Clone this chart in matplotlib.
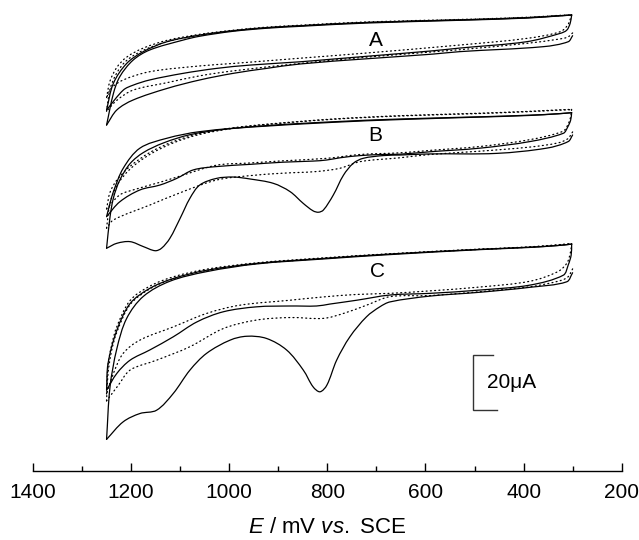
import numpy as np
import matplotlib
matplotlib.use("Agg")
import matplotlib.pyplot as plt
from matplotlib.path import Path
from matplotlib.patches import PathPatch

plt.rcParams['font.family'] = ['Liberation Sans', 'DejaVu Sans']
plt.rcParams['mathtext.fontset'] = 'custom'
plt.rcParams['mathtext.rm'] = 'Liberation Sans'
plt.rcParams['mathtext.it'] = 'Liberation Sans:italic'

# ---------------- data (E in mV, I in uA relative to each panel) ----------------
panel_labels = ["A", "B", "C"]
panel_offsets = [165.7, 130.2, 82.4]   # vertical offset of each panel (uA)

# Panel A -- solid
A_fwd1_E = [300, 309, 360, 530, 585, 720, 856, 924, 992, 1060, 1127, 1196, 1229, 1250]
A_fwd1_I = [-7.5, -9.7, -11.5, -13.3, -14.2, -15.9, -17.8, -19.4, -21.2, -23.6, -26.7, -30.9, -34.5, -40.0]
A_fwd2_E = [302, 305, 312, 326, 394, 530, 585, 720, 788, 856, 958, 1026, 1094, 1162, 1196, 1216, 1250]
A_fwd2_I = [0, -3.0, -5.5, -6.7, -9.7, -12.0, -13.0, -15.0, -16.0, -17.0, -18.2, -19.4, -21.2, -23.6, -25.5, -27.3, -34.5]
A_rev1_E = [1250, 1236, 1223, 1196, 1162, 1094, 1060, 992, 924, 856, 720, 530, 394, 326, 302]
A_rev1_I = [-40.0, -28.5, -22.4, -16.4, -12.7, -9.1, -7.7, -5.9, -4.8, -4.1, -2.9, -1.9, -1.1, -0.3, 0]
A_rev2_E = [1250, 1236, 1209, 1175, 1127, 1060, 992, 924, 856, 720, 530, 394, 326, 302]
A_rev2_I = [-34.5, -24.8, -17.6, -13.3, -9.7, -7.3, -5.7, -4.6, -3.9, -2.7, -1.8, -1.0, -0.25, 0]
# Panel A -- dotted
A_dfwd1_E = [300, 310, 330, 394, 530, 720, 856, 992, 1060, 1127, 1196, 1229, 1250]
A_dfwd1_I = [-6.5, -8.0, -8.8, -10.3, -12.6, -15.3, -17.6, -20.3, -22.1, -24.6, -27.3, -31.0, -35.0]
A_dfwd2_E = [302, 310, 326, 394, 530, 720, 856, 992, 1060, 1162, 1216, 1240, 1250]
A_dfwd2_I = [0.1, -3.6, -6.1, -8.5, -10.9, -13.8, -15.7, -17.6, -18.5, -20.6, -23.6, -26.5, -30.0]
A_drev_E = [1250, 1243, 1229, 1209, 1175, 1127, 1060, 992, 924, 856, 720, 530, 394, 326, 302]
A_drev1_I = [-35.0, -27.0, -21.0, -16.5, -12.8, -9.7, -7.3, -5.7, -4.6, -3.9, -2.7, -1.7, -0.9, -0.2, 0]
A_drev2_I = [-30.0, -24.0, -19.0, -15.3, -12.0, -9.2, -7.0, -5.5, -4.4, -3.7, -2.5, -1.6, -0.8, -0.1, 0.1]

# Panel B -- solid
B_fwd1_E = [300, 309, 353, 455, 590, 652, 686, 727, 747, 767, 788, 808, 818, 829, 849, 876, 910, 958,
            992, 1026, 1060, 1080, 1100, 1121, 1138, 1151, 1175, 1202, 1229, 1250]
B_fwd1_I = [-8.1, -10.5, -12.9, -14.8, -15.0, -15.4, -15.6, -16.6, -18.4, -22.7, -30.0, -35.4, -36.2, -35.7,
            -33.0, -28.7, -25.7, -24.1, -23.4, -23.9, -26.3, -31.1, -38.4, -45.7, -49.3, -50.2, -48.7, -46.9,
            -47.5, -49.3]
B_fwd2_E = [302, 304, 310, 319, 387, 489, 590, 652, 686, 733, 774, 801, 829, 890, 958, 1026, 1073, 1107,
            1141, 1182, 1223, 1250]
B_fwd2_I = [0, -2.7, -5.2, -7.5, -10.5, -12.9, -14.2, -15.1, -15.2, -15.6, -16.4, -17.2, -17.6, -18.0,
            -18.8, -19.6, -20.8, -23.9, -26.3, -28.1, -32.4, -37.8]
B_rev1_E = [1250, 1243, 1236, 1223, 1202, 1175, 1134, 1080, 1012, 944, 788, 652, 489, 387, 330, 302]
B_rev1_I = [-49.3, -38.0, -31.0, -24.5, -18.5, -14.5, -11.0, -8.0, -6.1, -5.1, -3.5, -2.5, -1.6, -1.0, -0.4, 0]
B_rev2_E = [1250, 1243, 1236, 1216, 1182, 1127, 1060, 924, 788, 652, 489, 387, 330, 302]
B_rev2_I = [-37.8, -33.0, -28.7, -20.2, -12.9, -9.3, -6.9, -4.7, -3.3, -2.3, -1.5, -0.9, -0.4, 0]
# Panel B -- dotted
B_dfwd1_E = [300, 310, 330, 387, 489, 590, 652, 733, 774, 822, 890, 958, 1026, 1094, 1162, 1236, 1250]
B_dfwd1_I = [-7.0, -9.5, -11.0, -12.5, -14.0, -15.2, -16.4, -17.8, -20.2, -21.4, -22.0, -22.9, -24.5,
             -28.7, -33.6, -39.0, -42.0]
B_dfwd2_E = [302, 304, 310, 320, 387, 489, 590, 652, 733, 801, 890, 958, 1026, 1094, 1141, 1196, 1223, 1250]
B_dfwd2_I = [1.2, -1.5, -4.5, -6.8, -9.8, -12.3, -13.7, -14.6, -15.2, -16.6, -17.5, -18.3, -19.1, -22.7,
             -25.3, -28.1, -29.9, -35.0]
B_drev_E = [1250, 1243, 1229, 1202, 1162, 1114, 1060, 992, 924, 788, 652, 489, 387, 330, 302]
B_drev1_I = [-42.0, -33.0, -26.5, -20.5, -15.2, -11.0, -7.9, -5.7, -4.3, -2.4, -1.2, -0.3, 0.4, 0.9, 1.1]
B_drev2_I = [-35.0, -29.0, -24.5, -19.5, -14.5, -10.5, -7.6, -5.5, -4.2, -2.3, -1.1, -0.2, 0.5, 1.0, 1.2]

# Panel C -- solid
C_fwd1_E = [300, 312, 387, 489, 591, 672, 693, 720, 754, 781, 801, 815, 829, 849, 883, 924, 964, 998,
            1046, 1080, 1114, 1148, 1182, 1216, 1250]
C_fwd1_I = [-10.4, -13.7, -15.7, -17.5, -18.9, -21.0, -22.8, -26.4, -33.7, -42.2, -51.3, -53.7, -51.9,
            -45.8, -38.5, -34.3, -33.5, -34.9, -39.7, -45.8, -54.3, -60.4, -61.6, -64.6, -71.0]
C_fwd2_E = [302, 303, 309, 319, 387, 489, 591, 672, 740, 795, 822, 876, 944, 1012, 1066, 1114, 1162,
            1202, 1229, 1250]
C_fwd2_I = [0, -4.0, -7.6, -11.3, -14.9, -16.7, -17.9, -18.5, -20.4, -21.8, -22.5, -22.5, -22.8, -24.6,
            -28.3, -33.7, -38.5, -42.2, -47.0, -53.1]
C_rev1_E = [1250, 1243, 1229, 1209, 1175, 1121, 1046, 944, 808, 672, 489, 387, 330, 302]
C_rev1_I = [-71.0, -52.0, -38.0, -27.0, -19.0, -13.5, -10.0, -7.2, -5.4, -3.8, -2.0, -1.2, -0.5, 0]
C_rev2_E = [1250, 1247, 1229, 1202, 1162, 1114, 1046, 944, 808, 672, 489, 387, 330, 302]
C_rev2_I = [-53.1, -43.4, -31.3, -21.6, -16.1, -12.5, -9.5, -7.0, -5.2, -3.6, -1.9, -1.1, -0.5, 0]
# Panel C -- dotted
C_dfwd1_E = [300, 310, 330, 387, 489, 591, 672, 720, 767, 808, 876, 944, 1012, 1080, 1148, 1202, 1226, 1250]
C_dfwd1_I = [-9.0, -12.0, -13.5, -15.5, -17.3, -18.7, -19.1, -22.2, -25.2, -27.0, -26.7, -27.6, -30.7,
             -37.3, -42.2, -45.8, -51.3, -57.0]
C_dfwd2_E = [302, 305, 312, 330, 387, 489, 591, 672, 740, 808, 876, 978, 1046, 1114, 1182, 1216, 1236, 1250]
C_dfwd2_I = [0.2, -3.5, -7.0, -10.0, -13.5, -15.6, -17.0, -17.9, -18.3, -19.2, -20.4, -22.2, -25.2, -30.1,
             -34.9, -39.7, -47.0, -54.5]
C_drev_E = [1250, 1247, 1240, 1229, 1202, 1162, 1114, 1046, 944, 808, 672, 489, 387, 302]
C_drev1_I = [-57.0, -47.0, -39.0, -32.0, -22.0, -16.3, -12.6, -9.6, -7.1, -5.2, -3.6, -1.9, -1.1, 0.1]
C_drev2_I = [-54.5, -44.0, -37.0, -30.0, -20.5, -15.3, -11.9, -9.1, -6.8, -5.0, -3.5, -1.8, -1.0, 0.2]

x_ticks = [1400, 1200, 1000, 800, 600, 400, 200]
scale_bar_uA = 20
scale_bar_label = "20\u03bcA"
x_label = r"$\mathit{E}$ / mV $\mathit{vs.}$ SCE"

# ---------------- figure ----------------
fig = plt.figure(figsize=(6.39, 5.40), dpi=100)
ax = fig.add_axes([0.0516, 0.1283, 0.9213, 0.8624])
ax.set_xlim(1400, 200)
ax.set_ylim(0, 169.35)


def smooth(E, I, off, **kw):
    pts = np.column_stack([np.asarray(E, float), np.asarray(I, float) + off])
    disp = ax.transData.transform(pts)
    d = np.maximum(np.hypot(*np.diff(disp, axis=0).T), 1e-6)
    t = np.concatenate([[0], np.cumsum(d)])
    n = len(pts)
    m = np.zeros_like(pts)
    m[0] = (pts[1] - pts[0]) / (t[1] - t[0])
    m[-1] = (pts[-1] - pts[-2]) / (t[-1] - t[-2])
    for i in range(1, n - 1):
        m[i] = (pts[i + 1] - pts[i - 1]) / (t[i + 1] - t[i - 1])
    verts = [pts[0]]
    codes = [Path.MOVETO]
    for i in range(n - 1):
        h = t[i + 1] - t[i]
        verts += [pts[i] + m[i] * h / 3, pts[i + 1] - m[i + 1] * h / 3, pts[i + 1]]
        codes += [Path.CURVE4] * 3
    ax.add_patch(PathPatch(Path(verts, codes), fill=False, **kw))


solid = dict(edgecolor='black', linewidth=0.9, linestyle='-', capstyle='round', joinstyle='round')
dotted = dict(edgecolor='black', linewidth=0.9, linestyle=(0, (0.8, 2.6)), capstyle='round')

panels = [
    (A_fwd1_E, A_fwd1_I, A_fwd2_E, A_fwd2_I, A_rev1_E, A_rev1_I, A_rev2_E, A_rev2_I,
     A_dfwd1_E, A_dfwd1_I, A_dfwd2_E, A_dfwd2_I, A_drev_E, A_drev1_I, A_drev2_I),
    (B_fwd1_E, B_fwd1_I, B_fwd2_E, B_fwd2_I, B_rev1_E, B_rev1_I, B_rev2_E, B_rev2_I,
     B_dfwd1_E, B_dfwd1_I, B_dfwd2_E, B_dfwd2_I, B_drev_E, B_drev1_I, B_drev2_I),
    (C_fwd1_E, C_fwd1_I, C_fwd2_E, C_fwd2_I, C_rev1_E, C_rev1_I, C_rev2_E, C_rev2_I,
     C_dfwd1_E, C_dfwd1_I, C_dfwd2_E, C_dfwd2_I, C_drev_E, C_drev1_I, C_drev2_I),
]

for off, p in zip(panel_offsets, panels):
    (f1E, f1I, f2E, f2I, r1E, r1I, r2E, r2I, df1E, df1I, df2E, df2I, drE, dr1I, dr2I) = p
    smooth(df1E, df1I, off, **dotted)
    smooth(df2E, df2I, off, **dotted)
    smooth(drE, dr1I, off, **dotted)
    smooth(drE, dr2I, off, **dotted)
    smooth(f1E, f1I, off, **solid)
    smooth(f2E, f2I, off, **solid)
    smooth(r1E, r1I, off, **solid)
    smooth(r2E, r2I, off, **solid)

label_pos = [(702, 156.6), (703, 121.9), (697, 72.6)]
for lab, (x, y) in zip(panel_labels, label_pos):
    ax.text(x, y, lab, fontsize=15, ha='center', va='center')

# scale bar
sb_x, sb_y0 = 504, 22.1
ax.plot([463, sb_x, sb_x, 454], [sb_y0 + scale_bar_uA, sb_y0 + scale_bar_uA, sb_y0, sb_y0],
        color='#333333', lw=1.0, solid_joinstyle='miter')
ax.text(475, sb_y0 + scale_bar_uA / 2, scale_bar_label, fontsize=15, ha='left', va='center')

# axes styling
for s in ['left', 'right', 'top']:
    ax.spines[s].set_visible(False)
ax.spines['bottom'].set_linewidth(1.0)
ax.set_yticks([])
ax.set_xticks(x_ticks)
ax.set_xticks(list(range(1300, 200, -200)), minor=True)
ax.tick_params(axis='x', which='major', direction='in', length=5.8, width=1.0, labelsize=15, pad=9)
ax.tick_params(axis='x', which='minor', direction='in', length=3.4, width=1.0)
ax.set_xlabel(x_label, fontsize=16, labelpad=11)

fig.savefig("out.png", dpi=100)
